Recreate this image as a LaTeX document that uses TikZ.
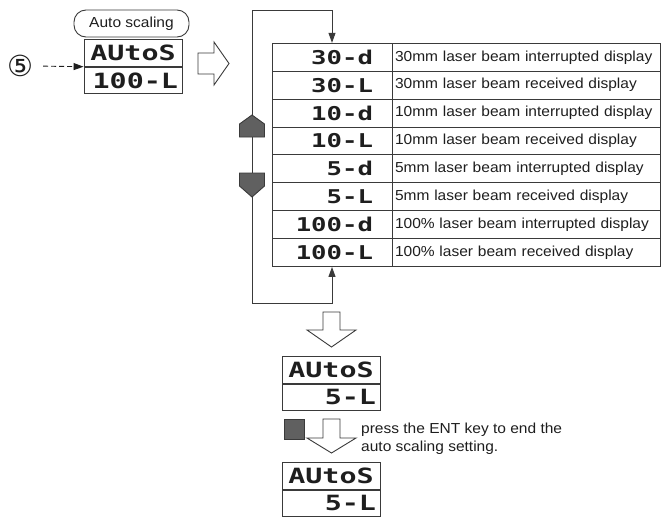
\documentclass[tikz,border=0pt]{standalone}
\usepackage{fontspec}
\setmainfont{Liberation Sans}
\newfontfamily\labelfont{Liberation Sans}[FakeStretch=1.07]
\newfontfamily\lcdfont{DejaVu Sans Mono}[FakeStretch=1.35]
\newfontfamily\symfont{DejaVu Sans}
\usetikzlibrary{arrows.meta,positioning,calc}
\definecolor{LineColor}{RGB}{58,58,58}
\definecolor{KeyColor}{RGB}{96,96,96}
\definecolor{InkColor}{RGB}{30,30,30}
\tikzset{
  lcdtop/.style={draw=LineColor, line width=0.9pt, minimum width=98pt, minimum height=26.5pt, inner sep=0pt, text=InkColor, font=\lcdfont\bfseries\fontsize{21}{21}\selectfont},
  lcdbot/.style={lcdtop, text width=90pt, align=right},
  lcdcell/.style={draw=LineColor, line width=0.9pt, minimum width=120pt, minimum height=27.9pt, inner sep=0pt, text width=82pt, align=right, text=InkColor, font=\lcdfont\bfseries\fontsize{19}{19}\selectfont},
  desccell/.style={draw=LineColor, line width=0.9pt, minimum width=268pt, minimum height=27.9pt, inner sep=0pt, text width=262pt, align=left},
  autotag/.style={draw=LineColor, line width=0.9pt, rounded corners=12pt, minimum width=115pt, minimum height=27pt, inner sep=0pt},
  keybox/.style={draw=LineColor, fill=KeyColor, line width=0.9pt, minimum size=20pt, inner sep=0pt},
  bigarrow/.style={draw=LineColor, fill=white, line width=0.9pt},
  pentagon/.style={draw=LineColor, fill=KeyColor, line width=0.9pt},
  loopline/.style={draw=LineColor, line width=0.9pt, -{Triangle[length=10pt,width=7pt]}},
  dasharrow/.style={draw=InkColor, line width=0.9pt, dash pattern=on 5pt off 3pt, -{Triangle[length=10pt,width=7pt]}},
}
\begin{document}
\begin{tikzpicture}[x=1pt, y=-1pt, every node/.style={text=InkColor, font=\labelfont\fontsize{14.5}{18}\selectfont}]
  \useasboundingbox (0,0) rectangle (662,517);

  \node[autotag] (autotag) at (131.5,23.5) {Auto scaling};
  \node[lcdtop] (autoA) at (133,53) {AUtoS};
  \node[lcdbot, below=0pt of autoA] (autoB) {100-L};
  \node[inner sep=0pt, font=\symfont\fontsize{29}{29}\selectfont] (step5) at (20,66) {⑤};
  \draw[dasharrow, shorten <=10pt] (step5.east) -- (autoA.south west);

  \draw[bigarrow] (198,53) -- (214,53) -- (214,42) -- (229,63.5) -- (214,85) -- (214,74) -- (198,74) -- cycle;

  \foreach \i/\code/\desc in {
    1/{30-d}/{30mm laser beam interrupted display},
    2/{30-L}/{30mm laser beam received display},
    3/{10-d}/{10mm laser beam interrupted display},
    4/{10-L}/{10mm laser beam received display},
    5/{5-d}/{5mm laser beam interrupted display},
    6/{5-L}/{5mm laser beam received display},
    7/{100-d}/{100\% laser beam interrupted display},
    8/{100-L}/{100\% laser beam received display}
  }{
    \pgfmathsetmacro\yc{43.3+(\i-0.5)*27.9}
    \node[lcdcell] (lcd\i) at (332,\yc) {\code};
    \node[desccell] (desc\i) at (526,\yc) {\desc};
  }

  \coordinate (looptop) at (252,10);
  \coordinate (loopbot) at (252,303);
  \draw[loopline] (loopbot) -- (looptop) -| (lcd1.north);
  \draw[loopline] (loopbot) -| (lcd8.south);
  \filldraw[pentagon] (252,115) -- (264.5,124) -- (264.5,137) -- (239.5,137) -- (239.5,124) -- cycle;
  \filldraw[pentagon] (239.5,173) -- (264.5,173) -- (264.5,186) -- (252,197) -- (239.5,186) -- cycle;

  \foreach \top/\neck/\tip in {312/330/347, 419/438/453} {
    \draw[bigarrow] (323,\top) -- (340,\top) -- (340,\neck) -- (356,\neck) -- (331.5,\tip) -- (307,\neck) -- (323,\neck) -- cycle;
  }

  \node[lcdtop] (scaleA) at (331,370) {AUtoS};
  \node[lcdbot, below=0pt of scaleA] (scaleB) {5-L};

  \node[keybox] (entkey) at (294.5,429) {};
  \node[anchor=west, align=left, inner sep=0pt] (entnote) at (361,439) {press the ENT key to end the\\auto scaling setting.};

  \node[lcdtop] (doneA) at (331,476) {AUtoS};
  \node[lcdbot, below=0pt of doneA] (doneB) {5-L};
\end{tikzpicture}
\end{document}
